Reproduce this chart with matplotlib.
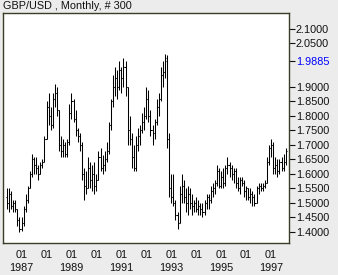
import matplotlib
matplotlib.use("Agg")
import matplotlib.pyplot as plt
import numpy as np

title = "GBP/USD , Monthly, # 300"
first_year = 1986
first_month = 6  # June 1986

opens = [1.52, 1.50, 1.53, 1.49, 1.50, 1.48, 1.44, 1.41, 1.43, 1.48,
         1.51, 1.55, 1.60, 1.65, 1.63, 1.62, 1.60, 1.63, 1.64, 1.72,
         1.83, 1.80, 1.77, 1.86, 1.88, 1.82, 1.70, 1.68, 1.70, 1.67,
         1.71, 1.81, 1.85, 1.79, 1.75, 1.73, 1.70, 1.60, 1.56, 1.55,
         1.62, 1.58, 1.60, 1.56, 1.58, 1.66, 1.62, 1.63, 1.65, 1.68,
         1.77, 1.85, 1.90, 1.93, 1.90, 1.96, 1.93, 1.97, 1.90, 1.75,
         1.72, 1.66, 1.62, 1.70, 1.73, 1.75, 1.78, 1.80, 1.86, 1.80,
         1.75, 1.74, 1.78, 1.83, 1.86, 1.94, 1.95, 1.99, 1.72, 1.55,
         1.52, 1.50, 1.46, 1.43, 1.53, 1.56, 1.52, 1.50, 1.53, 1.50,
         1.49, 1.50, 1.48, 1.49, 1.48, 1.47, 1.50, 1.52, 1.51, 1.54,
         1.55, 1.57, 1.61, 1.56, 1.59, 1.57, 1.62, 1.63, 1.62, 1.60,
         1.61, 1.57, 1.55, 1.58, 1.57, 1.54, 1.55, 1.52, 1.53, 1.52,
         1.50, 1.55, 1.56, 1.55, 1.56, 1.57, 1.64, 1.69, 1.70, 1.62,
         1.63, 1.61, 1.64, 1.62, 1.64]
highs = [1.55, 1.55, 1.54, 1.51, 1.51, 1.48, 1.45, 1.45, 1.49, 1.53,
         1.56, 1.61, 1.67, 1.66, 1.66, 1.63, 1.64, 1.65, 1.73, 1.85,
         1.88, 1.83, 1.88, 1.91, 1.90, 1.82, 1.73, 1.72, 1.71, 1.72,
         1.84, 1.88, 1.86, 1.82, 1.76, 1.74, 1.71, 1.62, 1.61, 1.66,
         1.64, 1.63, 1.64, 1.60, 1.68, 1.69, 1.665, 1.68, 1.71, 1.78,
         1.86, 1.94, 1.97, 1.96, 1.99, 1.97, 2.00, 1.99, 1.90, 1.80,
         1.74, 1.70, 1.73, 1.76, 1.77, 1.81, 1.83, 1.90, 1.89, 1.82,
         1.77, 1.79, 1.86, 1.88, 1.97, 1.99, 2.013, 2.01, 1.74, 1.60,
         1.60, 1.51, 1.47, 1.56, 1.60, 1.58, 1.55, 1.56, 1.55, 1.53,
         1.51, 1.52, 1.51, 1.50, 1.50, 1.51, 1.53, 1.53, 1.56, 1.57,
         1.58, 1.63, 1.62, 1.61, 1.62, 1.63, 1.66, 1.64, 1.63, 1.62,
         1.62, 1.59, 1.59, 1.59, 1.58, 1.56, 1.55, 1.55, 1.54, 1.53,
         1.56, 1.57, 1.57, 1.57, 1.58, 1.66, 1.70, 1.72, 1.71, 1.66,
         1.65, 1.65, 1.66, 1.67, 1.69]
lows = [1.48, 1.47, 1.48, 1.47, 1.47, 1.42, 1.40, 1.405, 1.42, 1.47,
        1.50, 1.55, 1.59, 1.60, 1.60, 1.58, 1.60, 1.62, 1.64, 1.72,
        1.77, 1.75, 1.76, 1.83, 1.80, 1.68, 1.66, 1.66, 1.66, 1.66,
        1.70, 1.79, 1.78, 1.73, 1.71, 1.68, 1.58, 1.51, 1.53, 1.55,
        1.55, 1.54, 1.53, 1.54, 1.58, 1.61, 1.60, 1.61, 1.64, 1.67,
        1.75, 1.83, 1.87, 1.86, 1.89, 1.88, 1.90, 1.87, 1.70, 1.70,
        1.62, 1.61, 1.61, 1.68, 1.70, 1.74, 1.75, 1.79, 1.78, 1.73,
        1.70, 1.72, 1.77, 1.80, 1.85, 1.90, 1.93, 1.69, 1.52, 1.50,
        1.49, 1.44, 1.41, 1.43, 1.50, 1.50, 1.47, 1.46, 1.48, 1.46,
        1.47, 1.47, 1.46, 1.46, 1.45, 1.46, 1.48, 1.48, 1.50, 1.52,
        1.53, 1.56, 1.55, 1.55, 1.55, 1.56, 1.60, 1.59, 1.58, 1.57,
        1.55, 1.54, 1.53, 1.56, 1.52, 1.51, 1.51, 1.50, 1.49, 1.49,
        1.50, 1.53, 1.54, 1.54, 1.55, 1.57, 1.63, 1.66, 1.60, 1.60,
        1.59, 1.60, 1.61, 1.61, 1.63]
closes = [1.50, 1.53, 1.49, 1.50, 1.48, 1.44, 1.41, 1.43, 1.48, 1.51,
          1.55, 1.60, 1.65, 1.63, 1.62, 1.60, 1.63, 1.64, 1.72, 1.83,
          1.80, 1.77, 1.86, 1.88, 1.82, 1.70, 1.68, 1.70, 1.67, 1.71,
          1.81, 1.85, 1.79, 1.75, 1.73, 1.70, 1.60, 1.56, 1.55, 1.62,
          1.58, 1.60, 1.56, 1.58, 1.66, 1.62, 1.63, 1.65, 1.68, 1.77,
          1.85, 1.90, 1.93, 1.90, 1.96, 1.93, 1.97, 1.90, 1.75, 1.72,
          1.66, 1.62, 1.70, 1.73, 1.75, 1.78, 1.80, 1.86, 1.80, 1.75,
          1.74, 1.78, 1.83, 1.86, 1.94, 1.95, 2.00, 1.72, 1.55, 1.52,
          1.50, 1.46, 1.43, 1.53, 1.56, 1.52, 1.50, 1.53, 1.50, 1.49,
          1.50, 1.48, 1.49, 1.48, 1.47, 1.50, 1.52, 1.51, 1.54, 1.55,
          1.57, 1.61, 1.56, 1.59, 1.57, 1.62, 1.63, 1.62, 1.60, 1.61,
          1.57, 1.55, 1.58, 1.57, 1.54, 1.55, 1.52, 1.53, 1.52, 1.50,
          1.55, 1.56, 1.55, 1.56, 1.57, 1.64, 1.69, 1.70, 1.62, 1.63,
          1.61, 1.64, 1.62, 1.64, 1.68]

y_ticks = [1.40, 1.45, 1.50, 1.55, 1.60, 1.65, 1.70, 1.75, 1.80, 1.85, 1.90, 2.05, 2.10]
last_label = 1.9885
tick_years = [1987, 1988, 1989, 1990, 1991, 1992, 1993, 1994, 1995, 1996, 1997]

W, H = 338, 275
fig = plt.figure(figsize=(W / 100, H / 100), dpi=100)
fig.patch.set_facecolor("#ececec")
plt.rcParams["font.family"] = ["Liberation Sans", "DejaVu Sans"]

left_px, right_px, top_px, bot_px = 3, 289, 13, 243
ax = fig.add_axes([left_px / W, 1 - bot_px / H, (right_px - left_px) / W, (bot_px - top_px) / H])
ax.set_facecolor("white")

n = len(closes)
idx = np.arange(n)
tick_w = 0.5
lw = 0.75
ax.vlines(idx, lows, highs, color="black", linewidth=lw)
ax.hlines(opens, idx - tick_w, idx, color="black", linewidth=lw)
ax.hlines(closes, idx, idx + tick_w, color="black", linewidth=lw)

ax.set_xlim(-1.92, n - 1 + 1.6)
ax.set_ylim(1.362, 2.155)

xt = [(y - first_year) * 12 + (1 - first_month) for y in tick_years]
ax.set_xticks(xt)
ax.set_xticklabels([f"01\n{y}" if y % 2 == 1 else "01" for y in tick_years],
                   fontsize=7.8, color="#111111", linespacing=1.4)
ax.tick_params(axis="x", length=0, pad=5)

ax.yaxis.tick_right()
ax.set_yticks(y_ticks + [last_label])
labels = [f"{v:.4f}" for v in y_ticks] + [f"{last_label:.4f}"]
ax.set_yticklabels(labels, fontsize=7.8)
ax.tick_params(axis="y", length=4, width=0.8, pad=1, colors="#111111", direction="out")
for lab, v in zip(ax.get_yticklabels(), y_ticks + [last_label]):
    if v == last_label:
        lab.set_color("#0000ff")

for s in ax.spines.values():
    s.set_color("#3c3c28")
    s.set_linewidth(1.0)

fig.text(3 / W, 1 - 6 / H, title, fontsize=7.8, ha="left", va="center", color="#111111")

fig.savefig("out.png", dpi=100, facecolor=fig.get_facecolor())
